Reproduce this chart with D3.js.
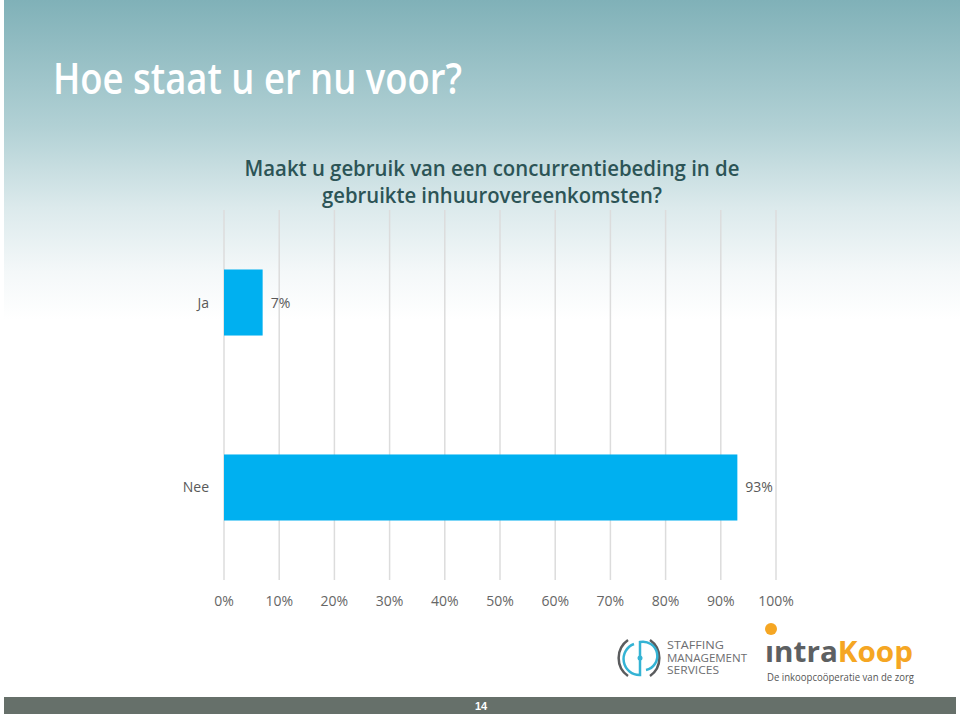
<!DOCTYPE html>
<html><head><meta charset="utf-8">
<script src="https://cdn.jsdelivr.net/npm/d3@7"></script>
<style>html,body{margin:0;padding:0;background:#fff;}svg{display:block;}</style>
</head><body>
<svg id="c" width="960" height="716"></svg>
<script>
const categories = ["Ja", "Nee"];
const values = [7, 93];
const ticks = [0, 10, 20, 30, 40, 50, 60, 70, 80, 90, 100];
const tickLabels = ["0%", "10%", "20%", "30%", "40%", "50%", "60%", "70%", "80%", "90%", "100%"];
const title = "Hoe staat u er nu voor?";
const subtitle = ["Maakt u gebruik van een concurrentiebeding in de", "gebruikte inhuurovereenkomsten?"];

const svg = d3.select("#c");
const defs = svg.append("defs");
const g = defs.append("linearGradient").attr("id","bg").attr("x1",0).attr("y1",0).attr("x2",0).attr("y2",1);
g.append("stop").attr("offset","0").attr("stop-color","#80b1b8");
g.append("stop").attr("offset","0.4").attr("stop-color","#b2d1d5");
g.append("stop").attr("offset","0.65").attr("stop-color","#dceaec");
g.append("stop").attr("offset","0.85").attr("stop-color","#f4f8f9");
g.append("stop").attr("offset","1").attr("stop-color","#ffffff");

svg.append("rect").attr("width",960).attr("height",716).attr("fill","#fff");
svg.append("rect").attr("x",4).attr("y",0).attr("width",956).attr("height",320).attr("fill","url(#bg)");

svg.append("text").attr("x",53).attr("y",94).attr("fill","#fff")
  .attr("font-family","Open Sans, sans-serif").attr("font-size",43).attr("font-weight",600)
  .attr("textLength",409).attr("lengthAdjust","spacingAndGlyphs").text(title);

const subW = [495, 340];
subtitle.forEach((s,i)=>{
  svg.append("text").attr("x",492).attr("y",176+i*27).attr("text-anchor","middle")
    .attr("fill","#2c5456").attr("font-family","Open Sans, sans-serif").attr("font-size",22).attr("font-weight",600)
    .attr("textLength",subW[i]).attr("lengthAdjust","spacingAndGlyphs").text(s);
});

const x = d3.scaleLinear().domain([0,100]).range([224,776]);
const y = d3.scaleBand().domain(categories).range([210,580]).paddingInner(0.643).paddingOuter(0.3216);

// gridlines
svg.append("g").selectAll("line").data(ticks).join("line")
  .attr("x1",d=>x(d)).attr("x2",d=>x(d)).attr("y1",210).attr("y2",580)
  .attr("stroke","#dcdcdc").attr("stroke-width",1.5);

// bars
svg.append("g").selectAll("rect").data(values).join("rect")
  .attr("x",x(0)).attr("y",(d,i)=>y(categories[i])).attr("width",d=>x(d)-x(0)).attr("height",y.bandwidth())
  .attr("fill","#00b0f0");

// value labels
svg.append("g").selectAll("text").data(values).join("text")
  .attr("x",d=>x(d)+8).attr("y",(d,i)=>y(categories[i])+y.bandwidth()/2+5)
  .attr("fill","#595959").attr("font-family","Open Sans, sans-serif").attr("font-size",14).text(d=>d+"%");

// category labels
svg.append("g").selectAll("text").data(categories).join("text")
  .attr("x",209).attr("y",d=>y(d)+y.bandwidth()/2+5).attr("text-anchor","end")
  .attr("fill","#595959").attr("font-family","Open Sans, sans-serif").attr("font-size",14).text(d=>d);

// x axis tick labels
svg.append("g").selectAll("text").data(ticks).join("text")
  .attr("x",d=>x(d)).attr("y",606).attr("text-anchor","middle")
  .attr("fill","#666").attr("font-family","Open Sans, sans-serif").attr("font-size",14)
  .text((d,i)=>tickLabels[i]);

// Staffing Management Services logo
const lg = svg.append("g");
lg.append("path").attr("d","M628,640 A22,22 0 0 0 628,676").attr("fill","none").attr("stroke","#5a5c5e").attr("stroke-width",2.5);
lg.append("path").attr("d","M650,640 A22,22 0 0 1 650,676").attr("fill","none").attr("stroke","#5a5c5e").attr("stroke-width",2.5);
lg.append("path").attr("d","M634,644 A16,16 0 0 0 640,675 L640,642 A14,14 0 0 1 646,670").attr("fill","none").attr("stroke","#34b3d4").attr("stroke-width",2.5);
lg.append("circle").attr("cx",640).attr("cy",658).attr("r",2.5).attr("fill","#34b3d4");
["STAFFING","MANAGEMENT","SERVICES"].forEach((t,i)=>{
  lg.append("text").attr("x",667).attr("y",649+i*12.5).attr("fill","#6d6e71")
    .attr("font-family","Open Sans, sans-serif").attr("font-size",10).attr("textLength",[57,80,52][i])
    .attr("lengthAdjust","spacingAndGlyphs").text(t);
});

// IntraKoop logo
const ik = svg.append("g");
ik.append("circle").attr("cx",771).attr("cy",629).attr("r",6).attr("fill","#f5a623");
const big = ik.append("text").attr("x",765).attr("y",662).attr("font-family","Open Sans, sans-serif")
  .attr("font-size",29).attr("font-weight",700).attr("textLength",148).attr("lengthAdjust","spacingAndGlyphs");
big.append("tspan").attr("fill","#5d6062").text("ıntra");
big.append("tspan").attr("fill","#f5a623").text("Koop");
ik.append("text").attr("x",767).attr("y",681).attr("fill","#555").attr("font-family","Open Sans, sans-serif")
  .attr("font-size",10).attr("textLength",147).attr("lengthAdjust","spacingAndGlyphs").text("De inkoopcoöperatie van de zorg");

// footer
svg.append("rect").attr("x",4).attr("y",697).attr("width",952).attr("height",17).attr("fill","#66706a");
svg.append("text").attr("x",481).attr("y",710).attr("text-anchor","middle").attr("fill","#fff")
  .attr("font-family","Liberation Sans, sans-serif").attr("font-size",11).attr("font-weight",700).text("14");
</script>
</body></html>
